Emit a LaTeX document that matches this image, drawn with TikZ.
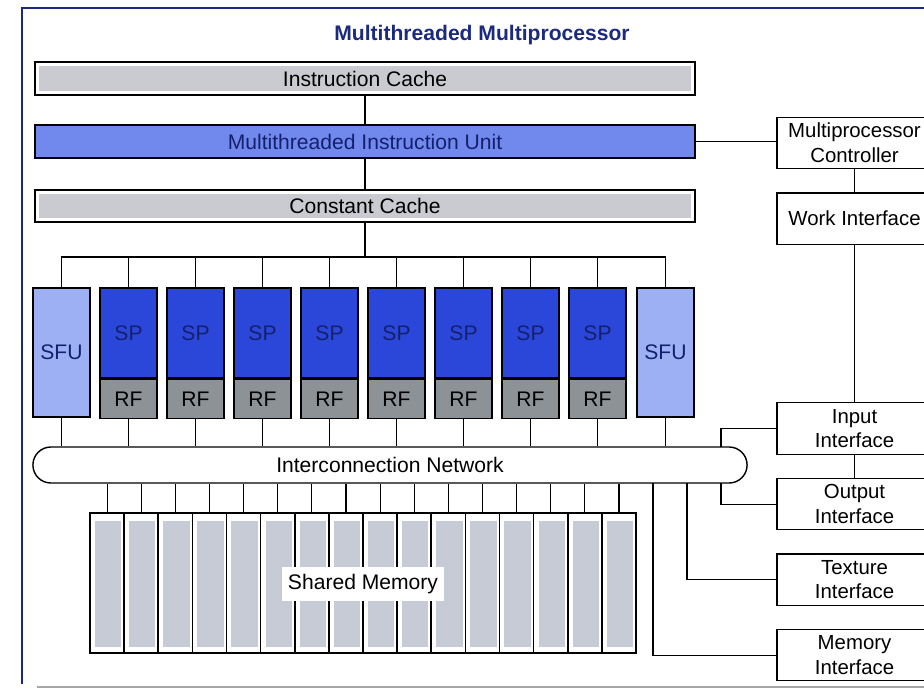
\documentclass[tikz,border=0pt]{standalone}
\usepackage{fontspec}
\setmainfont{Liberation Sans}
\definecolor{mmNavy}{HTML}{1C2A7E}
\definecolor{mmSpBlue}{HTML}{2B47D9}
\definecolor{mmSpText}{HTML}{14206E}
\definecolor{mmSfuBlue}{HTML}{9CB0F3}
\definecolor{mmMiuBlue}{HTML}{7189EC}
\definecolor{mmRfGray}{HTML}{8D9297}
\definecolor{mmCacheGray}{HTML}{C9CBD0}
\definecolor{mmMemGray}{HTML}{C6CBD6}
\usepackage{tikz}
\usetikzlibrary{positioning}

\begin{document}
\begin{tikzpicture}[x=0.025cm, y=-0.025cm,
  node distance=0.58cm,
  every node/.style={font=\fontsize{15}{17.5}\selectfont, align=center, inner sep=0pt},
  cache/.style={rectangle, draw, line width=1pt, fill=white,
                minimum width=16.5cm, minimum height=0.825cm,
                path picture={\fill[mmCacheGray] ([shift={(3pt,-3pt)}]path picture bounding box.north west)
                  rectangle ([shift={(-3pt,3pt)}]path picture bounding box.south east);}},
  unitbar/.style={rectangle, draw, line width=1pt, fill=mmMiuBlue, text=mmSpText,
                minimum width=16.5cm, minimum height=0.825cm},
  spbox/.style={rectangle, draw, line width=1pt, fill=mmSpBlue, text=mmSpText,
                minimum width=1.425cm, minimum height=2.25cm},
  rfbox/.style={rectangle, draw, line width=1pt, fill=mmRfGray,
                minimum width=1.425cm, minimum height=0.975cm},
  sfubox/.style={rectangle, draw, line width=1pt, fill=mmSfuBlue, text=mmSpText,
                minimum width=1.425cm, minimum height=3.225cm},
  netbox/.style={rectangle, draw, line width=1pt, fill=white, rounded corners=0.45cm,
                minimum width=17.85cm, minimum height=0.9cm},
  bank/.style={rectangle, draw, line width=1.2pt, fill=white,
                minimum width=0.853cm, minimum height=3.5cm,
                path picture={\fill[mmMemGray] ([shift={(3.5pt,-5.5pt)}]path picture bounding box.north west)
                  rectangle ([shift={(-2pt,4.5pt)}]path picture bounding box.south east);}},
  ifbox/.style={rectangle, draw, line width=0.8pt, fill=white,
                minimum width=3.875cm, minimum height=1.28cm,
                font=\fontsize{14.5}{17.5}\selectfont},
  wire/.style={line width=0.8pt}
]
  \useasboundingbox (0,0) rectangle (924,689);

  % frame
  \draw[mmNavy, line width=1pt] (924,8) -- (22,8) -- (22,684);
  \draw[gray!70, line width=1pt] (37,687) -- (924,687);

  \node[font=\fontsize{15}{18}\selectfont\bfseries, text=mmNavy] (title) at (482,35) {Multithreaded Multiprocessor};

  \node[cache]   (icache) at (365,78.5) {Instruction Cache};
  \node[unitbar] (miu)    at (365,141.5) {Multithreaded Instruction Unit};
  \node[cache, minimum height=0.8cm] (ccache) at (365,206) {Constant Cache};

  % processors
  \node[sfubox] (sfuL) at (61.5,352.5) {SFU};
  \foreach \i in {1,...,8} {
    \node[spbox] (sp\i) at ({61.5+67*\i},333) {SP};
    \node[rfbox, below=0pt of sp\i] (rf\i) {RF};
  }
  \node[sfubox] (sfuR) at (665.5,352.5) {SFU};

  \node[netbox] (net) at (390,465) {Interconnection Network};

  % shared memory banks
  \foreach \i in {1,...,16}
    \node[bank] (bank\i) at ({90+34.125*(\i-0.5)},583) {};
  \node[fill=white, inner xsep=4pt, inner ysep=5pt] (smem) at (363,584) {Shared Memory};

  % right column
  \node[ifbox] (ctrl) at (854.5,143) {Multiprocessor\\Controller};
  \node[ifbox, below=of ctrl]        (work)  {Work Interface};
  \node[ifbox, below=3.94cm of work] (inif)  {Input\\Interface};
  \node[ifbox, below=of inif]        (outif) {Output\\Interface};
  \node[ifbox, below=of outif]       (texif) {Texture\\Interface};
  \node[ifbox, below=of texif]       (memif) {Memory\\Interface};

  \coordinate (bus)    at (365,257);
  \coordinate (tapin)  at (721,447);
  \coordinate (tapout) at (721,483);
  \coordinate (taptex) at (687,483);
  \coordinate (tapmem) at (653,483);

  \draw[wire] (icache) -- (miu);
  \draw[wire] (miu.east) -- (miu.east -| ctrl.west);
  \draw[wire] (miu) -- (ccache);
  \draw[wire] (ccache) -- (bus);
  \draw[wire] (sfuL.north) |- (bus) -| (sfuR.north);
  \foreach \i in {1,...,8} {
    \draw[wire] (sp\i.north) -- (sp\i.north |- bus);
    \draw[wire] (rf\i.south) -- (rf\i.south |- net.north);
  }
  \draw[wire] (sfuL.south) -- (sfuL.south |- net.north);
  \draw[wire] (sfuR.south) -- (sfuR.south |- net.north);
  \foreach \i in {1,...,16}
    \draw[wire] (bank\i.north) -- (bank\i.north |- net.south);

  \draw[wire] (ctrl) -- (work);
  \draw[wire] (work) -- (inif);
  \draw[wire] (inif) -- (outif);
  \draw[wire] (tapin)  |- (inif.west);
  \draw[wire] (tapout) |- (outif.west);
  \draw[wire] (taptex) |- (texif.west);
  \draw[wire] (tapmem) |- (memif.west);
\end{tikzpicture}
\end{document}
